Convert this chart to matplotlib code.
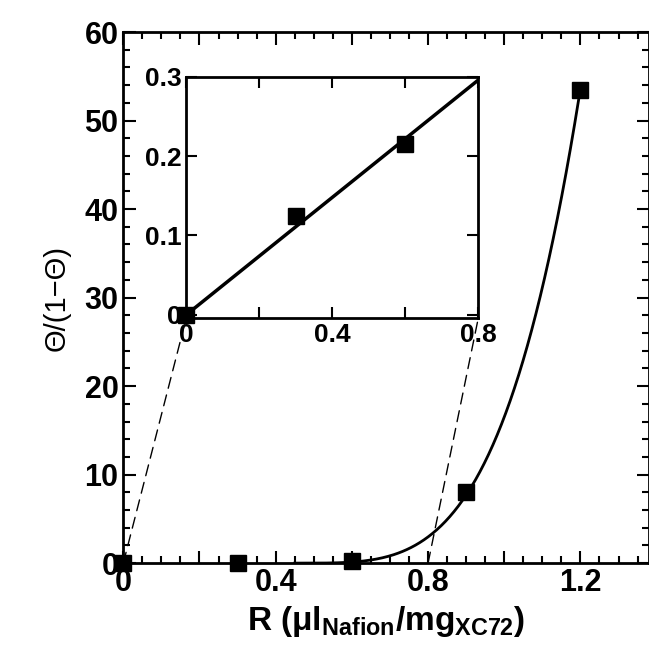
import numpy as np
import matplotlib
matplotlib.use("Agg")
import matplotlib.pyplot as plt
from matplotlib.patches import ConnectionPatch

plt.rcParams['font.family'] = ['Liberation Sans', 'DejaVu Sans']
plt.rcParams['font.weight'] = 'bold'
plt.rcParams['mathtext.fontset'] = 'custom'
plt.rcParams['mathtext.rm'] = 'Liberation Sans:bold'
plt.rcParams['mathtext.bf'] = 'Liberation Sans:bold'
plt.rcParams['mathtext.it'] = 'Liberation Sans:bold'

# main data
r_main = [0.0, 0.3, 0.6, 0.9, 1.2]
theta_main = [0.0, 0.0, 0.2, 8.0, 53.5]
# inset data
r_inset = [0.0, 0.3, 0.6]
theta_inset = [0.0, 0.125, 0.215]
# fitted curve params (power law onset)
x0, k, n = 0.45, 160.0, 3.8
slope = 0.37

fig = plt.figure(figsize=(6.49, 6.68), dpi=100)
ax = fig.add_axes([0.19, 0.157, 0.81, 0.795])

xc = np.linspace(x0, 1.2, 200)
ax.plot(xc, k * (xc - x0) ** n, color='black', lw=2)
ax.plot(r_main, theta_main, 's', color='black', ms=12, clip_on=False, zorder=5)
ax.set_xlim(0, 1.38)
ax.set_ylim(0, 60)
ax.set_xticks(np.arange(0, 1.39, 0.2))
ax.set_xticklabels(['0', '', '0.4', '', '0.8', '', '1.2'])
ax.set_xticks(np.arange(0, 1.39, 0.05), minor=True)
ax.set_yticks(np.arange(0, 61, 10))
ax.set_yticks(np.arange(0, 61, 2), minor=True)
ax.tick_params(which='both', direction='in', top=True, right=True, labelsize=22, width=1.5)
ax.tick_params(which='major', length=9)
ax.tick_params(which='minor', length=5)
for s in ax.spines.values():
    s.set_linewidth(2)
ax.set_xlabel(r'R ($\mu$l$_{\mathrm{Nafion}}$/mg$_{\mathrm{XC72}}$)', fontsize=24, fontweight='bold')
ax.set_ylabel('Θ/(1−Θ)', fontsize=21, fontweight='normal', labelpad=10)

ins = fig.add_axes([0.287, 0.524, 0.45, 0.361])
xl = np.linspace(0, 0.8, 10)
ins.plot(xl, slope * xl, color='black', lw=2.5)
ins.plot(r_inset, theta_inset, 's', color='black', ms=12, clip_on=False, zorder=5)
ins.set_xlim(0, 0.8)
ins.set_ylim(-0.004, 0.3)
ins.set_xticks(np.arange(0, 0.81, 0.2))
ins.set_xticklabels(['0', '', '0.4', '', '0.8'])
ins.set_yticks([0, 0.1, 0.2, 0.3])
ins.set_yticklabels(['0', '0.1', '0.2', '0.3'])
ins.tick_params(which='both', direction='in', top=True, right=True, labelsize=19, width=1.5)
ins.tick_params(which='major', length=8)
for s in ins.spines.values():
    s.set_linewidth(2)

for xv in [0.0, 0.8]:
    con = ConnectionPatch(xyA=(xv, 0), coordsA=ax.transData,
                          xyB=(xv, -0.004), coordsB=ins.transData,
                          ls=(0, (8, 5)), lw=1, color='black')
    fig.add_artist(con)

fig.savefig('out.png', dpi=100)
